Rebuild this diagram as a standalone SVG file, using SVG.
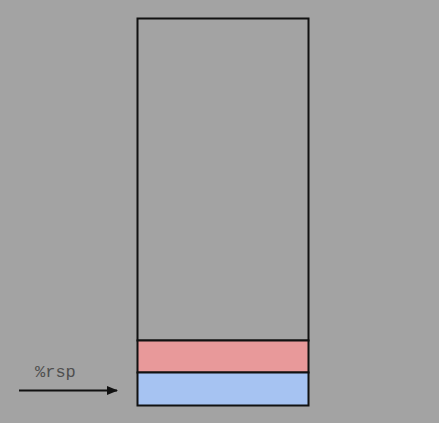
<svg xmlns="http://www.w3.org/2000/svg" width="439" height="423" viewBox="0 0 439 423">
<style>
.cell{stroke:#111;stroke-width:2}
.lbl{font-family:"Liberation Mono",monospace;font-size:17px;fill:#4f4f4f}
</style>
<defs>
<marker id="ah" markerWidth="11" markerHeight="9" refX="10" refY="4.5" orient="auto" markerUnits="userSpaceOnUse">
<path d="M0,0 L11,4.5 L0,9 Z" fill="#111"/>
</marker>
</defs>
<rect width="439" height="423" fill="#a3a3a3"/>
<g id="stack">
<rect class="cell" x="137.5" y="18.5" width="171" height="322" fill="none"/>
</g>
<g id="red">
<rect class="cell" x="137.5" y="340.5" width="171" height="32" fill="#e8999a"/>
</g>
<g id="blue">
<rect class="cell" x="137.5" y="372.5" width="171" height="33" fill="#a6c3f2"/>
</g>
<g id="rsp">
<text class="lbl" x="35" y="377">%rsp</text>
</g>
<g id="connectors">
<line x1="19" y1="390.5" x2="117" y2="390.5" stroke="#111" stroke-width="2" marker-end="url(#ah)"/>
</g>
</svg>
